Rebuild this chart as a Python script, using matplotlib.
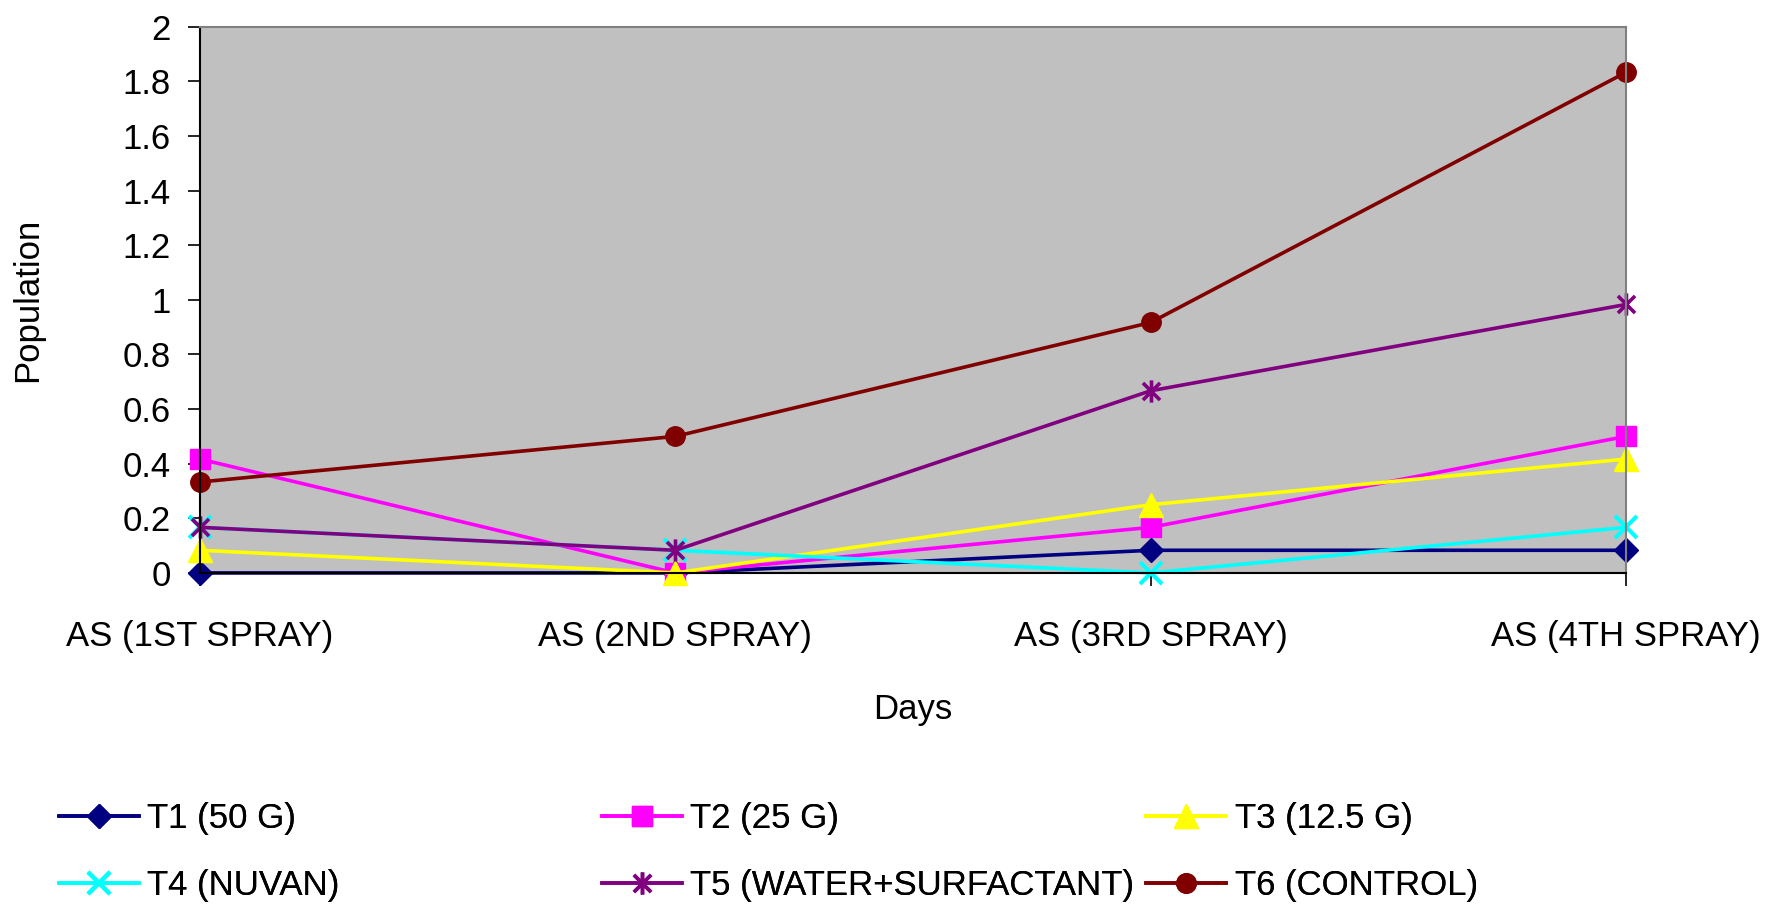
import matplotlib.pyplot as plt
from matplotlib.path import Path

plt.rcParams['font.family'] = ['Liberation Sans', 'DejaVu Sans']

days = ['AS (1ST SPRAY)', 'AS (2ND SPRAY)', 'AS (3RD SPRAY)', 'AS (4TH SPRAY)']
t1 = [0, 0, 0.083, 0.083]
t2 = [0.417, 0, 0.167, 0.5]
t3 = [0.083, 0, 0.25, 0.417]
t4 = [0.167, 0.083, 0, 0.167]
t5 = [0.167, 0.083, 0.667, 0.983]
t6 = [0.333, 0.5, 0.917, 1.833]
names = ['T1 (50 G)', 'T2 (25 G)', 'T3 (12.5 G)', 'T4 (NUVAN)',
         'T5 (WATER+SURFACTANT)', 'T6 (CONTROL)']

# excel style star: an x with a vertical bar
star = Path([(-1, -1), (1, 1), (-1, 1), (1, -1), (0, -1.3), (0, 1.3)],
            [Path.MOVETO, Path.LINETO, Path.MOVETO, Path.LINETO, Path.MOVETO, Path.LINETO])

styles = [
    dict(color='#000080', marker='D', ms=12),
    dict(color='#FF00FF', marker='s', ms=14),
    dict(color='#FFFF00', marker='^', ms=17),
    dict(color='#00FFFF', marker='x', ms=16, mew=3),
    dict(color='#800080', marker=star, ms=16, mew=2.6),
    dict(color='#800000', marker='o', ms=14),
]

fig = plt.figure(figsize=(17.8, 9.08), dpi=100)
ax = fig.add_axes([0.1124, 0.369, 0.8011, 0.6016])
ax.set_facecolor('#C0C0C0')

x = range(len(days))
lines = []
for vals, st, nm in zip([t1, t2, t3, t4, t5, t6], styles, names):
    ln, = ax.plot(x, vals, lw=2.6, label=nm, clip_on=False, **st)
    lines.append(ln)

ax.set_xlim(0, 3)
ax.set_ylim(0, 2)
ax.set_xticks(list(x))
ax.set_xticklabels(days)
ax.set_yticks([i / 10 for i in range(0, 21, 2)])
ax.set_yticklabels(['0', '0.2', '0.4', '0.6', '0.8', '1', '1.2', '1.4', '1.6', '1.8', '2'])
ax.tick_params(axis='both', direction='out', length=9, width=1.2, labelsize=25)
ax.tick_params(axis='x', pad=25)
ax.tick_params(axis='y', pad=12)
for s in ['top', 'right']:
    ax.spines[s].set_color('#808080')
    ax.spines[s].set_linewidth(1.5)
for s in ['left', 'bottom']:
    ax.spines[s].set_color('#000000')
    ax.spines[s].set_linewidth(1.5)

ax.set_xlabel('Days', fontsize=25, va='center')
ax.set_ylabel('Population', fontsize=25, va='center')
ax.xaxis.set_label_coords(0.5, -0.25)
ax.yaxis.set_label_coords(-0.121, 0.5)

# legend: three columns placed separately
cols = [(0, 3), (1, 4), (2, 5)]
xs = [0.033, 0.338, 0.644]
for (a, b), xl in zip(cols, xs):
    lg = fig.legend([lines[a], lines[b]], [names[a], names[b]], loc='upper left',
                    bbox_to_anchor=(xl, 0.117), frameon=False, fontsize=25,
                    handlelength=2.3, handletextpad=0.25, labelspacing=0.98,
                    borderaxespad=0, borderpad=0)
    fig.add_artist(lg)

fig.savefig('out.png', dpi=100)
